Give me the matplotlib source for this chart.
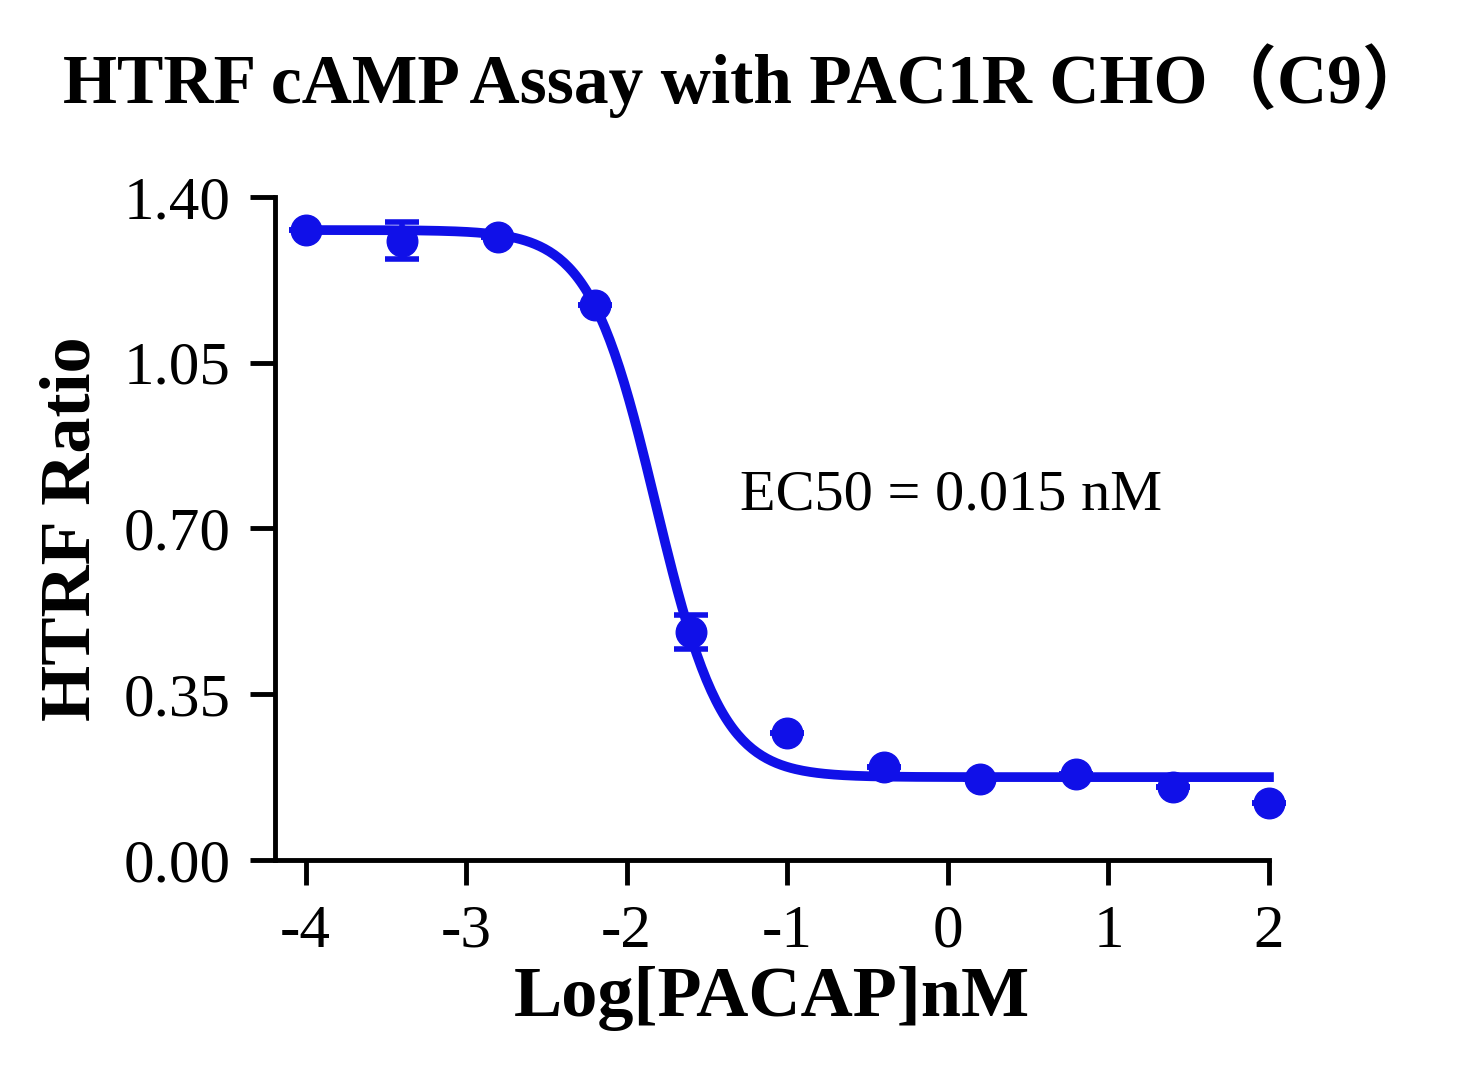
import numpy as np
import matplotlib
matplotlib.use("Agg")
import matplotlib.pyplot as plt

log_conc = [-4.0, -3.4, -2.8, -2.2, -1.6, -1.0, -0.4, 0.2, 0.8, 1.4, 2.0]
ratio = [1.330, 1.307, 1.315, 1.172, 0.481, 0.268, 0.196, 0.171, 0.182, 0.154, 0.120]
err = [0.0, 0.039, 0.0, 0.0, 0.036, 0.0, 0.0, 0.0, 0.0, 0.0, 0.0]
fit_top, fit_bottom, fit_logec50, fit_hill = 1.33, 0.175, -1.82, 2.1
yticks = [0.00, 0.35, 0.70, 1.05, 1.40]
xticks = [-4, -3, -2, -1, 0, 1, 2]

plt.rcParams['font.family'] = ['Liberation Serif', 'DejaVu Serif']
blue = '#1010e8'
fig = plt.figure(figsize=(14.66, 10.8), dpi=100)
ax = fig.add_axes([0.1876, 0.2037, 0.678, 0.614])
xs = np.linspace(-4, 2, 400)
ys = fit_bottom + (fit_top - fit_bottom) / (1 + 10 ** (fit_hill * (xs - fit_logec50)))
ax.plot(xs, ys, color=blue, lw=7, zorder=2, clip_on=False)
ax.errorbar(log_conc, ratio, yerr=err, fmt='o', color=blue, ms=22, capsize=12,
            elinewidth=4, capthick=4, zorder=3, clip_on=False)
ax.set_xlim(-4.19, 2.0)
ax.set_ylim(0, 1.40)
ax.set_xticks(xticks)
ax.set_xticklabels([str(t) for t in xticks])
ax.set_yticks(yticks)
ax.set_yticklabels([f"{t:.2f}" for t in yticks])
for s in ['top', 'right']:
    ax.spines[s].set_visible(False)
for s in ['left', 'bottom']:
    ax.spines[s].set_linewidth(3.5)
ax.tick_params(width=3.5, length=18, labelsize=44, pad=14)
ax.set_xlabel('Log[PACAP]nM', fontsize=52, fontweight='bold', labelpad=4)
ax.set_ylabel('HTRF Ratio', fontsize=52, fontweight='bold', labelpad=14)
ax.text(0.68, 0.55, 'EC50 = 0.015 nM', transform=ax.transAxes, fontsize=42, ha='center', va='center')
fig.text(0.51, 0.925, 'HTRF cAMP Assay with PAC1R CHO（C9）', fontsize=50, fontweight='bold',
         ha='center', va='center', family=['Liberation Serif', 'Noto Sans CJK SC'])
fig.savefig('out.png', dpi=100)
